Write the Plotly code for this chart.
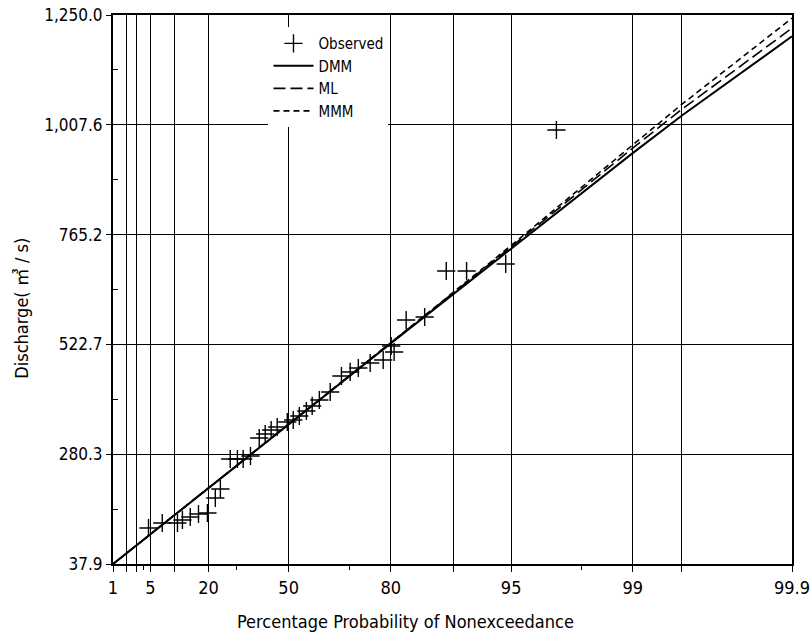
import plotly.graph_objects as go
from statistics import NormalDist

# ---------------- data ----------------
# Observed annual peaks: plotting probability (% nonexceedance) and discharge (m3/s)
obs_p = [4.7, 7.2, 10.7, 12.0, 14.2, 16.7, 19.6, 22.3, 24.1, 27.7, 30.4, 32.6,
         35.4, 38.8, 41.1, 43.4, 45.7, 49.5, 51.7, 53.9, 56.4, 58.4, 60.8, 64.3,
         67.7, 70.2, 72.4, 75.4, 78.4, 80.1, 80.7, 83.0, 86.1, 89.1, 91.4, 94.65, 97.2]
obs_q = [117.4, 128.4, 128.4, 135.1, 141.7, 148.3, 150.5, 183.6, 203.5, 269.7, 269.7, 269.7,
         276.4, 316.1, 324.9, 333.8, 340.4, 351.4, 355.8, 364.7, 375.7, 386.8, 400.0, 417.7,
         453.0, 461.9, 470.6, 481.7, 488.3, 519.2, 506.0, 576.6, 583.2, 684.8, 684.8, 700.3, 996.1]

# Fitted frequency curves
line_p = [1, 50, 80, 95, 99, 99.5, 99.9]
dmm_q = [37.9, 347, 525, 734, 945, 1028, 1203]
ml_q = [37.9, 347, 526, 738, 956, 1042, 1221]
mmm_q = [37.9, 347, 526, 741, 963, 1053, 1243]

# Axis ticks
x_tick_pct = [1, 5, 20, 50, 80, 95, 99, 99.9]
x_tick_text = ["1", "5", "20", "50", "80", "95", "99", "99.9"]
x_grid_pct = [2, 3, 10, 90, 99.5]
x_minor_pct = [4, 30, 70, 98]
y_tick_text = ["37.9", "280.3", "522.7", "765.2", "1,007.6", "1,250.0"]
y_min, y_max = 37.9, 1250.0

# ---------------- probability-paper scale ----------------
SKEW = 0.85
_nd = NormalDist()


def kfac(pct):
    """Pearson type III frequency factor (Wilson-Hilferty) for a probability in %."""
    z = _nd.inv_cdf(pct / 100.0)
    return (2.0 / SKEW) * ((1 + SKEW * z / 6 - SKEW ** 2 / 36) ** 3 - 1)


def kx(pcts):
    return [kfac(p) for p in pcts]


FONT = "Liberation Sans Narrow, DejaVu Sans Condensed, Liberation Sans, Noto Sans CJK KR, sans-serif"

fig = go.Figure()
fig.add_trace(go.Scatter(
    x=kx(obs_p), y=obs_q, mode="markers", name="Observed",
    marker=dict(symbol="cross-thin", size=13, color="black",
                line=dict(width=1.4, color="black")),
))
fig.add_trace(go.Scatter(
    x=kx(line_p), y=dmm_q, mode="lines", name="DMM",
    line=dict(color="black", width=2),
))
fig.add_trace(go.Scatter(
    x=kx(line_p), y=ml_q, mode="lines", name="ML",
    line=dict(color="black", width=1.6, dash="12px,5px"),
))
fig.add_trace(go.Scatter(
    x=kx(line_p), y=mmm_q, mode="lines", name="MMM",
    line=dict(color="black", width=1.6, dash="6px,4px"),
))

x_vals = kx(x_tick_pct) + kx(x_grid_pct)
x_text = x_tick_text + [""] * len(x_grid_pct)
step = (y_max - y_min) / (len(y_tick_text) - 1)
y_vals = [y_min + i * step for i in range(len(y_tick_text))]
y_minor = [y_min + (i + 0.5) * step for i in range(len(y_tick_text) - 1)]

fig.update_layout(
    width=812, height=643,
    margin=dict(l=113, r=20, t=15, b=79, autoexpand=False),
    paper_bgcolor="white", plot_bgcolor="white",
    font=dict(family=FONT, size=17, color="black"),
    showlegend=True,
    legend=dict(x=0.229, y=0.978, xanchor="left", yanchor="top",
                bgcolor="white", borderwidth=0, font=dict(size=15, family=FONT),
                itemwidth=40, tracegroupgap=0),
    xaxis=dict(
        range=[kfac(x_tick_pct[0]), kfac(x_tick_pct[-1])],
        tickmode="array", tickvals=x_vals, ticktext=x_text,
        showgrid=True, gridcolor="black", gridwidth=1.3,
        showline=True, linecolor="black", linewidth=2, mirror=True,
        ticks="outside", ticklen=6, tickwidth=1.3, tickcolor="black",
        zeroline=False, automargin=False, ticklabeloverflow="allow",
        minor=dict(tickmode="array", tickvals=kx(x_minor_pct), ticks="outside",
                   ticklen=4, tickwidth=1.2, tickcolor="black", showgrid=False),
        tickfont=dict(size=18, family=FONT),
    ),
    yaxis=dict(
        range=[y_min, y_max],
        tickmode="array", tickvals=y_vals, ticktext=y_tick_text,
        showgrid=True, gridcolor="black", gridwidth=1.3,
        showline=True, linecolor="black", linewidth=2, mirror=True,
        ticks="outside", ticklen=5, tickwidth=1.3, tickcolor="black",
        zeroline=False, automargin=False, ticklabeloverflow="allow",
        minor=dict(tickmode="array", tickvals=y_minor, ticks="inside",
                   ticklen=5, tickwidth=1.2, tickcolor="black", showgrid=False),
        tickfont=dict(size=17, family=FONT),
    ),
    annotations=[
        dict(text="Percentage Probability of Nonexceedance", xref="paper", yref="paper",
             x=0.4315, y=-0.104, xanchor="center", yanchor="middle", showarrow=False,
             font=dict(size=18, family=FONT)),
        dict(text="Discharge( ㎥ / s)", xref="paper", yref="paper",
             x=-0.134, y=0.465, xanchor="center", yanchor="middle", showarrow=False,
             textangle=-90, font=dict(size=18, family=FONT)),
    ],
)

# remove the default page margin so the figure fills the 812x643 window exactly
fig.write_html("out.html", config={"displayModeBar": False},
               post_script="document.body.style.margin='0';")
